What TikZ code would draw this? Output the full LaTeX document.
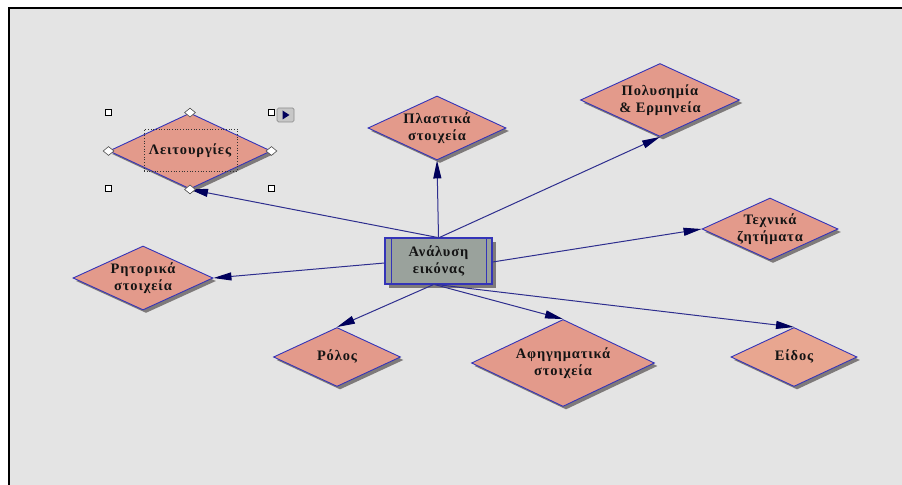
\documentclass[tikz,border=0pt]{standalone}
\usepackage{fontspec}
\setmainfont{Liberation Serif}
\newfontfamily\gfont[LetterSpace=6]{Liberation Serif}
\usetikzlibrary{shapes.geometric,shadows,arrows.meta,calc}
\definecolor{bgc}{HTML}{E4E4E4}
\definecolor{dfill}{HTML}{E39A8B}
\definecolor{efill}{HTML}{E8A690}
\definecolor{edgec}{HTML}{3434B8}
\definecolor{lnc}{HTML}{2E2E8E}
\definecolor{tipc}{HTML}{00005C}
\definecolor{boxc}{HTML}{9AA29C}
\definecolor{shc}{HTML}{7E7A7A}
\begin{document}
\begin{tikzpicture}[x=1bp,y=-1bp,
  txt/.style={font=\gfont\bfseries\fontsize{14.5}{17}\selectfont, align=center, text=black!92, inner sep=0pt},
  dia/.style={diamond, draw=edgec, fill=dfill, line width=0.9bp, inner sep=0pt,
    drop shadow={shadow xshift=3bp, shadow yshift=-3bp, fill=shc, opacity=1}},
  cbox/.style={rectangle, draw=edgec, fill=boxc, line width=1.1bp, inner sep=0pt,
    drop shadow={shadow xshift=4bp, shadow yshift=-4bp, fill=shc, opacity=1}},
  arr/.style={draw=lnc, line width=1bp, -{Triangle[length=18bp,width=8bp,fill=tipc,color=tipc]}},
  hsq/.style={rectangle, draw=black, fill=white, line width=0.7bp, minimum size=6bp, inner sep=0pt},
  hdia/.style={diamond, draw=black!70, fill=white, line width=0.6bp, minimum width=11bp, minimum height=9bp, inner sep=0pt}
]
\useasboundingbox (0,0) rectangle (902,485);
\fill[bgc] (9,8) rectangle (902,485);
\draw[line width=2bp] (902,8) -- (9,8) -- (9,485);

% central box
\node[cbox, minimum width=107bp, minimum height=46bp] (c) at (438.5,261) {};
\node[txt] (ct) at (c.center) {Ανάλυση\\εικόνας};
\draw[edgec, line width=1bp] ($(c.north west)+(7,0)$) -- ($(c.south west)+(7,0)$);
\draw[edgec, line width=1bp] ($(c.north east)+(-6,0)$) -- ($(c.south east)+(-6,0)$);

% diamonds
\node[dia, minimum width=162bp, minimum height=76bp] (leit) at (190,151) {};
\node[txt] (leitt) at (leit.center) {Λειτουργίες};
\node[dia, minimum width=138bp, minimum height=64bp] (plast) at (437,128) {};
\node[txt] (plastt) at (plast.center) {Πλαστικά\\στοιχεία};
\node[dia, minimum width=159bp, minimum height=73bp] (poly) at (660,100) {};
\node[txt] (polyt) at (poly.center) {Πολυσημία\\\& Ερμηνεία};
\node[dia, minimum width=136bp, minimum height=62bp] (tech) at (770,229) {};
\node[txt] (techt) at (tech.center) {Τεχνικά\\ζητήματα};
\node[dia, minimum width=140bp, minimum height=64bp] (rit) at (143,278) {};
\node[txt] (ritt) at (rit.center) {Ρητορικά\\στοιχεία};
\node[dia, minimum width=127bp, minimum height=59bp] (rol) at (337,357) {};
\node[txt] (rolt) at (rol.center) {Ρόλος};
\node[dia, minimum width=183bp, minimum height=87bp] (afi) at (563,363) {};
\node[txt] (afit) at (afi.center) {Αφηγηματικά\\στοιχεία};
\node[dia, fill=efill, minimum width=126bp, minimum height=59bp] (eid) at (794,357) {};
\node[txt] (eidt) at (eid.center) {Είδος};

% connectors
\draw[arr] ($(c.north)+(-1,0)$) -- (leit.south);
\draw[arr] (c.north) -- (plast.south);
\draw[arr] ($(c.north)+(1,0)$) -- (poly.south);
\draw[arr] ($(c.east)+(0,1)$) -- (tech.west);
\draw[arr] ($(c.west)+(0,2)$) -- (rit.east);
\draw[arr] ($(c.south)+(-5,0)$) -- (rol.north);
\draw[arr] ($(c.south)+(-4,0)$) -- (afi.north);
\draw[arr] ($(c.south)+(-2,0)$) -- (eid.north);

% selection handles
\node[draw=black!80, dotted, line width=0.7bp, minimum width=93bp, minimum height=42bp, inner sep=0pt] (sel) at (190.5,150) {};
\node[hsq] (h1) at (108,112) {};
\node[hsq] (h2) at (271,112) {};
\node[hsq] (h3) at (108,188.5) {};
\node[hsq] (h4) at (271,188.5) {};
\node[hdia] (d1) at (leit.north) {};
\node[hdia] (d2) at (leit.south) {};
\node[hdia] (d3) at (leit.west) {};
\node[hdia] (d4) at (leit.east) {};
\node[rectangle, rounded corners=1.5bp, draw=black!45, fill=black!22, line width=0.7bp, minimum width=17bp, minimum height=14bp, inner sep=0pt] (play) at (285.5,115) {};
\fill[tipc] ($(play.center)+(-3,-4.5)$) -- ++(0,9) -- ++(7,-4.5) -- cycle;
\end{tikzpicture}
\end{document}
